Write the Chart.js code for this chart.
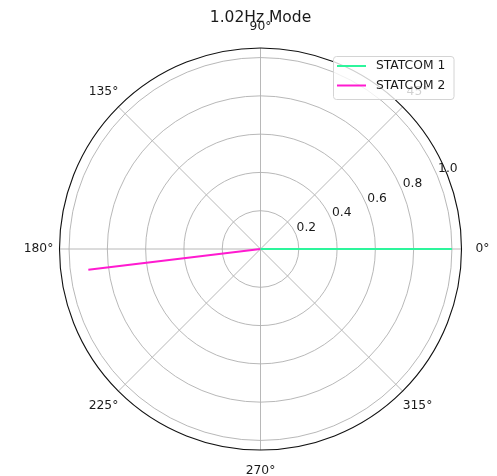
<!DOCTYPE html>
<html>
<head>
<meta charset="utf-8">
<script src="https://cdn.jsdelivr.net/npm/chart.js@4/dist/chart.umd.min.js"></script>
<style>
html,body{margin:0;padding:0;background:#fff;}
canvas{display:block;}
</style>
</head>
<body>
<canvas id="c" width="497" height="476"></canvas>
<script>
// ---- data ----
const chartTitle = '1.02Hz Mode';
const seriesNames = ['STATCOM 1', 'STATCOM 2'];
const seriesColors = ['#2df59c', '#ff1ad0'];
const magnitudes = [1.0, 0.906];      // radial value of each phasor
const anglesDeg = [0, 186.9];         // angle of each phasor (degrees)
const radialTicks = [0.2, 0.4, 0.6, 0.8, 1.0];
const angleTicks = [0, 45, 90, 135, 180, 225, 270, 315];
const rMax = 1.05;

const FONT = '"DejaVu Sans", sans-serif';

function toXY(r, deg) {
  const a = deg * Math.PI / 180;
  return { x: r * Math.cos(a), y: r * Math.sin(a) };
}

const datasets = seriesNames.map((name, i) => ({
  label: name,
  data: [toXY(0, anglesDeg[i]), toXY(magnitudes[i], anglesDeg[i])],
  borderColor: seriesColors[i],
  backgroundColor: seriesColors[i],
  showLine: true,
  borderWidth: 2,
  pointRadius: 0,
  tension: 0
}));

const polarPlugin = {
  id: 'polarGrid',
  beforeDatasetsDraw(chart) {
    const ctx = chart.ctx;
    const xs = chart.scales.x, ys = chart.scales.y;
    const cx = xs.getPixelForValue(0), cy = ys.getPixelForValue(0);
    const unit = xs.getPixelForValue(1) - cx;
    const R = unit * rMax;
    ctx.save();
    ctx.strokeStyle = '#b0b0b0';
    ctx.lineWidth = 0.9;
    radialTicks.forEach(t => {
      ctx.beginPath();
      ctx.arc(cx, cy, t * unit, 0, Math.PI * 2);
      ctx.stroke();
    });
    angleTicks.forEach(a => {
      const rad = a * Math.PI / 180;
      ctx.beginPath();
      ctx.moveTo(cx, cy);
      ctx.lineTo(cx + R * Math.cos(rad), cy - R * Math.sin(rad));
      ctx.stroke();
    });
    ctx.restore();
  },
  afterDraw(chart) {
    const ctx = chart.ctx;
    const xs = chart.scales.x, ys = chart.scales.y;
    const cx = xs.getPixelForValue(0), cy = ys.getPixelForValue(0);
    const unit = xs.getPixelForValue(1) - cx;
    const R = unit * rMax;
    ctx.save();
    // outer frame
    ctx.strokeStyle = '#111';
    ctx.lineWidth = 1.1;
    ctx.beginPath();
    ctx.arc(cx, cy, R, 0, Math.PI * 2);
    ctx.stroke();

    // angle labels
    ctx.fillStyle = '#1a1a1a';
    ctx.font = '12.3px ' + FONT;
    ctx.textAlign = 'center';
    ctx.textBaseline = 'middle';
    angleTicks.forEach(a => {
      const rad = a * Math.PI / 180;
      const lr = R + 21;
      ctx.fillText(a + '°', cx + lr * Math.cos(rad), cy - lr * Math.sin(rad));
    });

    // radial tick labels
    const ra = 22.5 * Math.PI / 180;
    radialTicks.forEach(t => {
      const px = cx + t * unit * Math.cos(ra) + 10.5;
      const py = cy - t * unit * Math.sin(ra) - 6.5;
      ctx.fillText(t.toFixed(1), px, py);
    });

    // title
    ctx.font = '15.5px ' + FONT;
    ctx.textBaseline = 'alphabetic';
    ctx.fillText(chartTitle, cx, 21.5);

    // legend
    const bx = 333.5, by = 56.5, bw = 120.5, bh = 43;
    ctx.fillStyle = 'rgba(255,255,255,0.8)';
    ctx.strokeStyle = '#d4d4d4';
    ctx.lineWidth = 1;
    ctx.beginPath();
    ctx.roundRect(bx, by, bw, bh, 3);
    ctx.fill();
    ctx.stroke();
    ctx.font = '12.3px ' + FONT;
    ctx.textAlign = 'left';
    ctx.textBaseline = 'middle';
    seriesNames.forEach((name, i) => {
      const yy = 66 + i * 19.5;
      ctx.strokeStyle = seriesColors[i];
      ctx.lineWidth = 2;
      ctx.beginPath();
      ctx.moveTo(337, yy);
      ctx.lineTo(366, yy);
      ctx.stroke();
      ctx.fillStyle = '#1a1a1a';
      ctx.fillText(name, 376, yy);
    });
    ctx.restore();
  }
};

new Chart(document.getElementById('c'), {
  type: 'scatter',
  data: { datasets },
  options: {
    responsive: false,
    animation: false,
    devicePixelRatio: 1,
    layout: { padding: { left: 59.5, right: 35.5, top: 48, bottom: 26 } },
    scales: {
      x: { type: 'linear', min: -rMax, max: rMax, display: false },
      y: { type: 'linear', min: -rMax, max: rMax, display: false }
    },
    plugins: {
      legend: { display: false },
      title: { display: false },
      tooltip: { enabled: false }
    }
  },
  plugins: [polarPlugin]
});
</script>
</body>
</html>
